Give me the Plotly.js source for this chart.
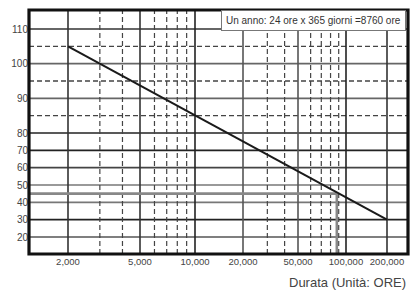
<!DOCTYPE html>
<html>
<head>
<meta charset="utf-8">
<script src="https://cdn.plot.ly/plotly-3.0.1.min.js"></script>
<style>
html,body{margin:0;padding:0;background:#fff;}
#chart{width:411px;height:293px;}
</style>
</head>
<body>
<div id="chart"></div>
<script>
// ---- data ----
const lifeHours = [2000, 200000];          // durata (ore)
const lifeTemp = [105, 30];                // temperatura
const yTickVals = [20, 30, 40, 50, 60, 70, 80, 90, 100, 110];
const yDashVals = [85, 95, 105];
const xTickVals = [2000, 5000, 10000, 20000, 50000, 100000, 200000];
const xTickText = ['2,000', '5,000', '10,000', '20,000', '50,000', '100,000', '200,000'];
const xMinorVals = [3000, 4000, 6000, 7000, 8000, 9000, 30000, 40000, 60000, 70000, 80000, 90000];
const refTemp = 45;
const refHours = 87600;                    // 10 anni
const boxText = 'Un anno: 24 ore x 365 giorni =8760 ore';
const xTitle = 'Durata (Unità: ORE)';

// ---- axis scales as drawn in the original (uneven log decades, stretched upper temperature band) ----
const xKnotUnits = [39, 111, 166, 214, 269, 317, 358];
function xu(v) {
  const l = Math.log10(v);
  const k = xTickVals.map(Math.log10);
  let i = 0;
  while (i < k.length - 2 && l > k[i + 1]) i++;
  return xKnotUnits[i] + (l - k[i]) / (k[i + 1] - k[i]) * (xKnotUnits[i + 1] - xKnotUnits[i]);
}
function yu(v) { return v <= 80 ? v : 80 + 2 * (v - 80); }

// ---- styles ----
const yLineColor = {20: '#555', 30: '#222', 40: '#777', 50: '#777', 60: '#444', 70: '#222', 80: '#222', 90: '#666', 100: '#666', 110: '#333'};
const xLineColor = {2000: '#333', 5000: '#333', 10000: '#222', 20000: '#555', 50000: '#555', 100000: '#222', 200000: '#333'};
const FONT = '"Liberation Sans", Arial, sans-serif';

const XR = [0, 379], YR = [10.19, 150.96];
const shapes = [];
yTickVals.forEach(v => shapes.push({type: 'line', xref: 'paper', yref: 'y', x0: 0, x1: 1, y0: yu(v), y1: yu(v), line: {color: yLineColor[v], width: 1.6}, layer: 'below'}));
yDashVals.forEach(v => shapes.push({type: 'line', xref: 'paper', yref: 'y', x0: 0, x1: 1, y0: yu(v), y1: yu(v), line: {color: '#444', width: 1.3, dash: '5px,3px'}, layer: 'below'}));
xMinorVals.forEach(v => shapes.push({type: 'line', xref: 'x', yref: 'paper', x0: xu(v), x1: xu(v), y0: 0, y1: 1, line: {color: '#444', width: 1.2, dash: '5px,3px'}, layer: 'below'}));
xTickVals.forEach(v => shapes.push({type: 'line', xref: 'x', yref: 'paper', x0: xu(v), x1: xu(v), y0: 0, y1: 1, line: {color: xLineColor[v], width: 1.6}, layer: 'below'}));
// reference (45 °C / 87600 h)
shapes.push({type: 'line', xref: 'x', yref: 'y', x0: XR[0], x1: xu(refHours), y0: yu(refTemp), y1: yu(refTemp), line: {color: '#888', width: 2.6}, layer: 'below'});
shapes.push({type: 'line', xref: 'x', yref: 'y', x0: xu(refHours), x1: xu(refHours), y0: YR[0], y1: yu(refTemp), line: {color: '#888', width: 2.6}, layer: 'below'});
// frame
shapes.push({type: 'rect', xref: 'paper', yref: 'paper', x0: 0, x1: 1, y0: 0, y1: 1, line: {color: '#111', width: 3.2}});

const trace = {
  x: lifeHours.map(xu), y: lifeTemp.map(yu), type: 'scatter', mode: 'lines',
  line: {color: '#1a1a1a', width: 2}, hoverinfo: 'skip', showlegend: false
};

const layout = {
  width: 411, height: 293,
  margin: {l: 29, r: 3, t: 10, b: 39},
  paper_bgcolor: '#fff', plot_bgcolor: '#fff',
  font: {family: FONT, color: '#444', size: 10},
  xaxis: {range: XR, tickmode: 'array', tickvals: xTickVals.map(xu), ticktext: xTickText, tickangle: 0,
          showgrid: false, zeroline: false, ticks: '', showline: false, fixedrange: true,
          tickfont: {size: 9.5, color: '#444', family: FONT}},
  yaxis: {range: YR, tickmode: 'array', tickvals: yTickVals.map(yu), ticktext: yTickVals.map(String),
          showgrid: false, zeroline: false, ticks: '', showline: false, fixedrange: true,
          tickfont: {size: 10, color: '#444', family: FONT}},
  shapes: shapes,
  annotations: [
    {text: boxText, xref: 'paper', yref: 'paper', x: 0.995, y: 1, xanchor: 'right', yanchor: 'top',
     showarrow: false, bgcolor: '#fff', bordercolor: '#777', borderwidth: 1, borderpad: 4,
     font: {family: FONT, size: 10, color: '#333'}},
    {text: xTitle, xref: 'paper', yref: 'paper', x: 1, y: -0.115, xanchor: 'right', yanchor: 'middle',
     showarrow: false, font: {family: FONT, size: 13, color: '#444'}}
  ]
};

Plotly.newPlot('chart', [trace], layout, {displayModeBar: false, staticPlot: true});
</script>
</body>
</html>
